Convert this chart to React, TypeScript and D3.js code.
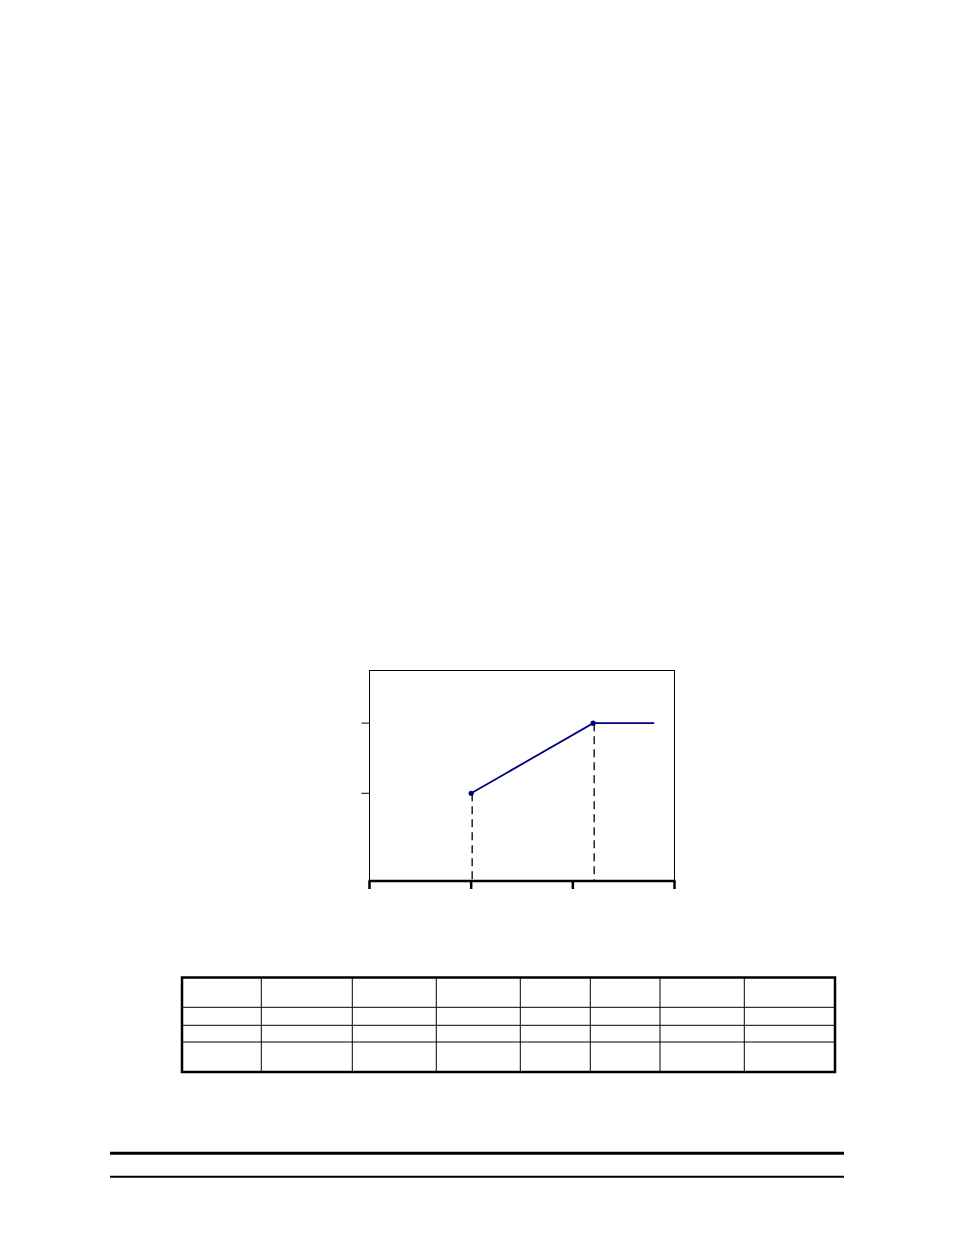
import { useEffect, useRef } from 'react';
import * as d3 from 'd3';

// chart values
const xTicks = [0, 1, 2, 3];
const yTicks = [40, 60];
const seriesX = [1, 2.2, 2.8];
const seriesY = [40, 60, 60];
const markerIdx = [0, 1];

// empty table below the chart
const tableCols = ['', '', '', '', '', '', '', ''];
const tableRows = ['', '', '', ''];

const W = 954;
const H = 1235;

export default function App() {
  const svgRef = useRef<SVGSVGElement>(null);

  useEffect(() => {
    if (!svgRef.current) return;
    const svg = d3.select(svgRef.current);
    svg.selectAll('*').remove();

    const plot = { left: 369.5, right: 674.5, top: 670.5, bottom: 881 };

    const x = d3.scaleLinear().domain([0, 3]).range([plot.left, plot.right]);
    const y = d3.scaleLinear().domain([15, 75]).range([plot.bottom, plot.top]);

    const g = svg.append('g');

    // frame
    g.append('rect')
      .attr('x', plot.left)
      .attr('y', plot.top)
      .attr('width', plot.right - plot.left)
      .attr('height', plot.bottom - plot.top)
      .attr('fill', 'none')
      .attr('stroke', '#000')
      .attr('stroke-width', 1);

    // y ticks
    g.selectAll('.ytick')
      .data(yTicks)
      .enter().append('line')
      .attr('x1', plot.left - 8)
      .attr('x2', plot.left)
      .attr('y1', d => y(d))
      .attr('y2', d => y(d))
      .attr('stroke', '#000')
      .attr('stroke-width', 1);

    // dashed drop lines
    g.selectAll('.drop')
      .data(markerIdx)
      .enter().append('line')
      .attr('x1', i => x(seriesX[i]) + 1)
      .attr('x2', i => x(seriesX[i]) + 1)
      .attr('y1', i => y(seriesY[i]))
      .attr('y2', plot.bottom)
      .attr('stroke', '#000')
      .attr('stroke-width', 1.3)
      .attr('stroke-dasharray', '8,5');

    // bottom axis
    g.append('line')
      .attr('x1', plot.left - 1)
      .attr('x2', plot.right + 1)
      .attr('y1', plot.bottom)
      .attr('y2', plot.bottom)
      .attr('stroke', '#000')
      .attr('stroke-width', 2.5);

    g.selectAll('.xtick')
      .data(xTicks)
      .enter().append('line')
      .attr('x1', d => x(d))
      .attr('x2', d => x(d))
      .attr('y1', plot.bottom)
      .attr('y2', plot.bottom + 8)
      .attr('stroke', '#000')
      .attr('stroke-width', 2.5);

    // series
    const pts = seriesX.map((v, i) => [v, seriesY[i]] as [number, number]);
    const line = d3.line<[number, number]>().x(d => x(d[0])).y(d => y(d[1]));
    g.append('path')
      .attr('d', line(pts))
      .attr('fill', 'none')
      .attr('stroke', '#000080')
      .attr('stroke-width', 1.8);

    g.selectAll('.pt')
      .data(markerIdx)
      .enter().append('circle')
      .attr('cx', i => x(seriesX[i]))
      .attr('cy', i => y(seriesY[i]))
      .attr('r', 2.6)
      .attr('fill', '#000080');

    // table
    const colEdges = [182, 261.3, 352.3, 436.3, 520.3, 590.3, 660, 744.3, 835];
    const rowEdges = [977.5, 1007.3, 1025.3, 1042, 1072];
    const tg = svg.append('g');

    tg.selectAll('.vline')
      .data(colEdges.slice(1, tableCols.length))
      .enter().append('line')
      .attr('x1', d => d)
      .attr('x2', d => d)
      .attr('y1', rowEdges[0])
      .attr('y2', rowEdges[tableRows.length])
      .attr('stroke', '#000')
      .attr('stroke-width', 1);

    tg.selectAll('.hline')
      .data(rowEdges.slice(1, tableRows.length))
      .enter().append('line')
      .attr('x1', colEdges[0])
      .attr('x2', colEdges[tableCols.length])
      .attr('y1', d => d)
      .attr('y2', d => d)
      .attr('stroke', '#000')
      .attr('stroke-width', 1);

    tg.append('rect')
      .attr('x', colEdges[0])
      .attr('y', rowEdges[0])
      .attr('width', colEdges[tableCols.length] - colEdges[0])
      .attr('height', rowEdges[tableRows.length] - rowEdges[0])
      .attr('fill', 'none')
      .attr('stroke', '#000')
      .attr('stroke-width', 2.5);

    // footer rules
    svg.append('line')
      .attr('x1', 110).attr('x2', 844)
      .attr('y1', 1153.3).attr('y2', 1153.3)
      .attr('stroke', '#000').attr('stroke-width', 3);
    svg.append('line')
      .attr('x1', 110).attr('x2', 844)
      .attr('y1', 1176.7).attr('y2', 1176.7)
      .attr('stroke', '#000').attr('stroke-width', 2);
  }, []);

  return (
    <svg
      ref={svgRef}
      width={W}
      height={H}
      style={{ position: 'absolute', left: 0, top: 0, background: '#fff' }}
    />
  );
}
